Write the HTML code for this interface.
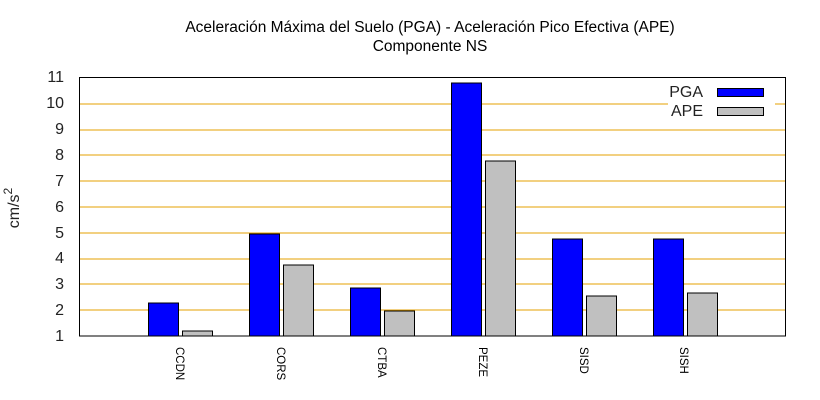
<!DOCTYPE html><html><head><style>body{margin:0;background:#fff}svg{display:block}</style></head><body>
<svg width="820" height="400" xmlns="http://www.w3.org/2000/svg" font-family="Liberation Sans, sans-serif">
<rect width="820" height="400" fill="#fff"/>
<text x="430" y="32" text-anchor="middle" font-size="15.5">Aceleración Máxima del Suelo (PGA) -  Aceleración Pico Efectiva (APE)</text>
<text x="430" y="51" text-anchor="middle" font-size="15.5">Componente NS</text>
<g stroke="#e6a100" stroke-width="1">
<line x1="79" x2="668" y1="104" y2="104"/><line x1="775" x2="786" y1="104" y2="104"/>
<line x1="79" x2="786" y1="130" y2="130"/>
<line x1="79" x2="786" y1="155" y2="155"/>
<line x1="79" x2="786" y1="181" y2="181"/>
<line x1="79" x2="786" y1="207" y2="207"/>
<line x1="79" x2="786" y1="233" y2="233"/>
<line x1="79" x2="786" y1="259" y2="259"/>
<line x1="79" x2="786" y1="284" y2="284"/>
<line x1="79" x2="786" y1="310" y2="310"/>
</g>
<g font-size="16" text-anchor="end" fill="#222">
<text x="64" y="82">11</text><text x="64" y="108">10</text><text x="64" y="134">9</text><text x="64" y="160">8</text><text x="64" y="186">7</text><text x="64" y="212">6</text><text x="64" y="238">5</text><text x="64" y="263">4</text><text x="64" y="289">3</text><text x="64" y="315">2</text><text x="64" y="341">1</text>
</g>
<text transform="translate(19,208) rotate(-90)" text-anchor="middle" font-size="16" fill="#222">cm/s<tspan dy="-7" font-size="12">2</tspan></text>
<g stroke="#000" stroke-width="1">
<rect x="148.5" y="303" width="30" height="33" fill="#0000ff"/>
<rect x="182.5" y="331" width="30" height="5" fill="#c0c0c0"/>
<rect x="249.5" y="234" width="30" height="102" fill="#0000ff"/>
<rect x="283.5" y="265" width="30" height="71" fill="#c0c0c0"/>
<rect x="350.5" y="288" width="30" height="48" fill="#0000ff"/>
<rect x="384.5" y="311" width="30" height="25" fill="#c0c0c0"/>
<rect x="451.5" y="83" width="30" height="253" fill="#0000ff"/>
<rect x="485.5" y="161" width="30" height="175" fill="#c0c0c0"/>
<rect x="552.5" y="239" width="30" height="97" fill="#0000ff"/>
<rect x="586.5" y="296" width="30" height="40" fill="#c0c0c0"/>
<rect x="653.5" y="239" width="30" height="97" fill="#0000ff"/>
<rect x="687.5" y="293" width="30" height="43" fill="#c0c0c0"/>
<rect x="717.5" y="88.5" width="46" height="8" fill="#0000ff"/>
<rect x="717.5" y="107.5" width="46" height="8" fill="#c0c0c0"/>
<rect x="79.5" y="77.5" width="706" height="258.5" fill="none"/>
</g>
<g font-size="16" text-anchor="end" fill="#222"><text x="703" y="97">PGA</text><text x="703" y="116">APE</text></g>
<g font-size="11.5" fill="#000">
<text transform="translate(176,347) rotate(90)">CCDN</text>
<text transform="translate(277,347) rotate(90)">CORS</text>
<text transform="translate(378,347) rotate(90)">CTBA</text>
<text transform="translate(479,347) rotate(90)">PEZE</text>
<text transform="translate(580,347) rotate(90)">SISD</text>
<text transform="translate(680,347) rotate(90)">SISH</text>
</g>
</svg></body></html>
